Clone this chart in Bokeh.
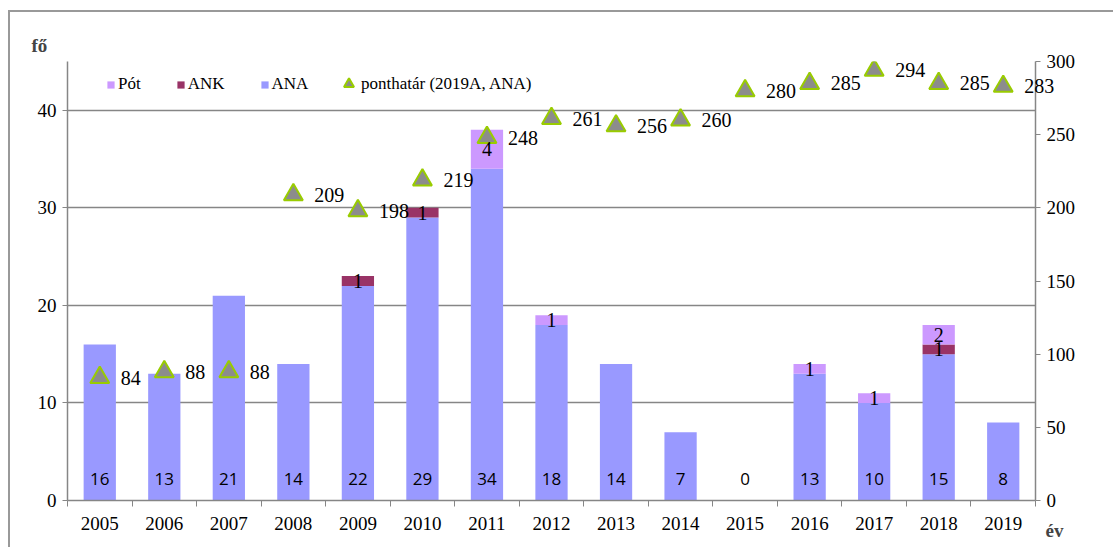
from bokeh.plotting import figure
from bokeh.models import (Range1d, LinearAxis, FixedTicker, Legend, LegendItem,
                          ColumnDataSource, LabelSet, Label)
from bokeh.core.properties import value
from bokeh.embed import file_html
from bokeh.resources import INLINE

years = ["2005", "2006", "2007", "2008", "2009", "2010", "2011", "2012",
         "2013", "2014", "2015", "2016", "2017", "2018", "2019"]
ana = [16, 13, 21, 14, 22, 29, 34, 18, 14, 7, 0, 13, 10, 15, 8]
ank = [0, 0, 0, 0, 1, 1, 0, 0, 0, 0, 0, 0, 0, 1, 0]
pot = [0, 0, 0, 0, 0, 0, 4, 1, 0, 0, 0, 1, 1, 2, 0]
ponthatar = [84, 88, 88, 209, 198, 219, 248, 261, 256, 260, 280, 285, 294, 285, 283]
left_ticks = [0, 10, 20, 30, 40]
right_ticks = [0, 50, 100, 150, 200, 250, 300]

SERIF = "Liberation Serif"
GRAY = "#868686"

xs = [i + 0.5 for i in range(len(years))]

src = ColumnDataSource(dict(x=xs, ANA=ana, ANK=ank, Pot=pot, pt=ponthatar,
                            ana_lbl=[str(v) for v in ana],
                            zero=[0] * len(years)))

p = figure(width=1105, height=537, output_backend="svg", toolbar_location=None,
           x_range=Range1d(0, len(years)), y_range=Range1d(0, 45),
           min_border_left=57, min_border_right=80, min_border_top=49,
           min_border_bottom=49, outline_line_color=None)
p.styles = {"margin-left": "8px", "margin-top": "10px",
            "border-top": "2px solid #999999", "border-left": "2px solid #999999"}
p.extra_y_ranges = {"pt": Range1d(0, 300)}

# bars
rs = p.vbar_stack(["ANA", "ANK", "Pot"], x="x", width=0.5, source=src,
                  color=["#9999FF", "#993366", "#CC99FF"], line_color=None)

# markers
tri = p.scatter("x", "pt", source=src, y_range_name="pt", marker="triangle",
                size=19, fill_color="#8c8c8c", line_color="#99CC00", line_width=2)

# axes
xa = p.xaxis[0]
xa.ticker = FixedTicker(ticks=xs, minor_ticks=list(range(len(years) + 1)))
xa.major_label_overrides = {x: y for x, y in zip(xs, years)}
xa.major_tick_line_color = None
xa.major_tick_out = 0
xa.major_tick_in = 0
xa.minor_tick_out = 6
xa.minor_tick_in = 0
xa.minor_tick_line_color = GRAY
xa.axis_line_color = GRAY
xa.axis_line_width = 1.5
xa.major_label_standoff = 10
xa.major_label_text_font = SERIF
xa.major_label_text_font_size = "19px"
xa.major_label_text_color = "black"

ya = p.yaxis[0]
ya.ticker = FixedTicker(ticks=left_ticks)
ya.minor_tick_line_color = None
ya.major_tick_out = 5
ya.major_tick_in = 0
ya.major_tick_line_color = GRAY
ya.axis_line_color = GRAY
ya.axis_line_width = 1.5
ya.major_label_standoff = 6
ya.major_label_text_font = SERIF
ya.major_label_text_font_size = "19px"
ya.major_label_text_color = "black"

ra = LinearAxis(y_range_name="pt", ticker=FixedTicker(ticks=right_ticks))
ra.minor_tick_line_color = None
ra.major_tick_out = 5
ra.major_tick_in = 0
ra.major_tick_line_color = GRAY
ra.axis_line_color = GRAY
ra.axis_line_width = 1.5
ra.major_label_standoff = 6
ra.major_label_text_font = SERIF
ra.major_label_text_font_size = "19px"
ra.major_label_text_color = "black"
p.add_layout(ra, "right")

p.xgrid.visible = False
p.ygrid.ticker = FixedTicker(ticks=left_ticks[1:])
p.ygrid.grid_line_color = GRAY
p.ygrid.grid_line_width = 1.5

# ANA labels at base of bars
p.add_layout(LabelSet(x="x", y="zero", text="ana_lbl", source=src, y_offset=22,
                      text_align="center", text_baseline="middle",
                      text_font=value("Open Sans"), text_font_size=value("17px"),
                      text_color="black"))

# ANK / Pót labels
kx, ky, kt = [], [], []
for x, a, k, q in zip(xs, ana, ank, pot):
    if k > 0:
        kx.append(x); ky.append(a + k / 2); kt.append(str(k))
    if q > 0:
        kx.append(x); ky.append(a + k + q / 2); kt.append(str(q))
seg_src = ColumnDataSource(dict(x=kx, y=ky, t=kt))
p.add_layout(LabelSet(x="x", y="y", text="t", source=seg_src,
                      text_align="center", text_baseline="middle",
                      text_font=value(SERIF), text_font_size=value("20px"),
                      text_color="black"))

# ponthatár labels; the last one crosses the right axis, so it goes in a side panel
pt_src = ColumnDataSource(dict(x=xs[:-1], pt=ponthatar[:-1],
                               t=[str(v) for v in ponthatar[:-1]]))
p.add_layout(LabelSet(x="x", y="pt", text="t", source=pt_src, y_range_name="pt",
                      x_offset=21, text_align="left", text_baseline="middle",
                      text_font=value(SERIF), text_font_size=value("20px"),
                      text_color="black"))
p.add_layout(Label(x=xs[-1], y=ponthatar[-1], y_range_name="pt", x_offset=21,
                   text=str(ponthatar[-1]), text_align="left", text_baseline="middle",
                   text_font=SERIF, text_font_size="20px", text_color="black"), "right")

# axis titles
p.add_layout(Label(x=0, y=45, x_offset=-36, y_offset=16, text="fő",
                   text_font=SERIF, text_font_size="19px", text_font_style="bold",
                   text_baseline="middle", text_align="left"), "left")
p.add_layout(Label(x=len(years), y=0, x_offset=10, y_offset=-30, text="év",
                   text_font=SERIF, text_font_size="19px", text_font_style="bold",
                   text_baseline="middle", text_align="left"), "above")

legend = Legend(items=[LegendItem(label="Pót", renderers=[rs[2]]),
                       LegendItem(label="ANK", renderers=[rs[1]]),
                       LegendItem(label="ANA", renderers=[rs[0]])],
                orientation="horizontal", location=(39, 406), padding=0, margin=0,
                spacing=35, label_width=0, glyph_width=9, glyph_height=9,
                label_standoff=3, border_line_color=None, background_fill_alpha=0,
                label_text_font=SERIF, label_text_font_size="17px",
                label_text_color="black")
p.add_layout(legend)

legend2 = Legend(items=[LegendItem(label="ponthatár (2019A, ANA)", renderers=[tri])],
                 orientation="horizontal", location=(269, 404), padding=0, margin=0,
                 label_width=0, glyph_width=25, glyph_height=25,
                 label_standoff=-7, border_line_color=None, background_fill_alpha=0,
                 label_text_font=SERIF, label_text_font_size="17px",
                 label_text_color="black")
p.add_layout(legend2)

open("out.html", "w").write(file_html(p, INLINE))
